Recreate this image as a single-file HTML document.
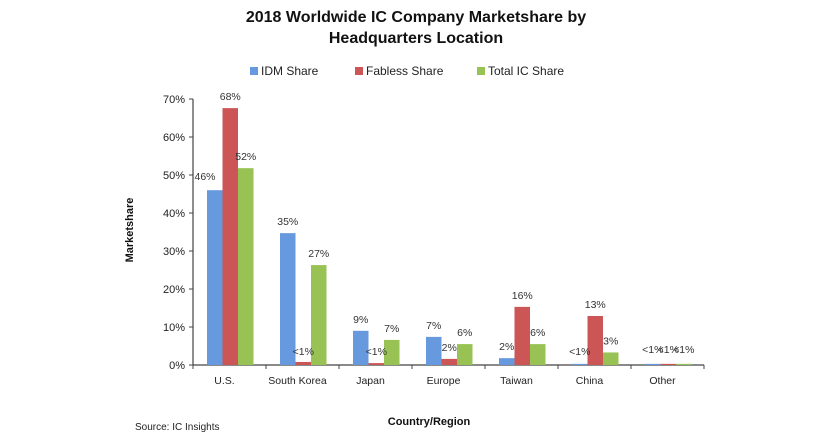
<!DOCTYPE html>
<html><head><meta charset="utf-8"><style>
body{margin:0;background:#fff;}
svg{font-family:"Liberation Sans",Arial,sans-serif;}
</style></head><body>
<svg width="830" height="433">
<text x="416" y="22" text-anchor="middle" font-size="16" font-weight="bold" fill="#111">2018 Worldwide IC Company Marketshare by</text>
<text x="416" y="43" text-anchor="middle" font-size="16" font-weight="bold" fill="#111">Headquarters Location</text>
<g id="legend"></g>
<g id="axes"></g>
<g id="bars"></g>
<g id="labels"></g>
<text transform="translate(133,230) rotate(-90)" text-anchor="middle" font-size="11" font-weight="bold" fill="#111">Marketshare</text>
<text x="429" y="425" text-anchor="middle" font-size="11" font-weight="bold" fill="#111">Country/Region</text>
<text x="135" y="430" font-size="10" fill="#222">Source: IC Insights</text>
</svg>
<script>
const categories=["U.S.","South Korea","Japan","Europe","Taiwan","China","Other"];
const idm=[46,34.7,9,7.4,1.8,0.3,0.3];
const fabless=[67.6,0.8,0.5,1.6,15.3,12.9,0.3];
const total=[51.8,26.3,6.6,5.5,5.5,3.3,0.3];
const idmLabels=["46%","35%","9%","7%","2%","<1%","<1%"];
const fablessLabels=["68%","<1%","<1%","2%","16%","13%","<1%"];
const totalLabels=["52%","27%","7%","6%","6%","3%","<1%"];
const yTicks=[0,10,20,30,40,50,60,70];
const seriesNames=["IDM Share","Fabless Share","Total IC Share"];

const NS="http://www.w3.org/2000/svg";
const x0=193,catW=73,y0=365,pxPer=38/10,barW=15.5,off=14;
const colors=["#6699dd","#cc5555","#99c255"];
const yS=v=>y0-v*pxPer;
function mk(tag,attrs,parent,txt){const e=document.createElementNS(NS,tag);for(const k in attrs)e.setAttribute(k,attrs[k]);if(txt!==undefined)e.textContent=txt;parent.appendChild(e);return e;}
const axes=document.getElementById('axes'),bars=document.getElementById('bars'),labels=document.getElementById('labels'),legend=document.getElementById('legend');
const xEnd=x0+catW*categories.length;
let l=mk('line',{x1:x0,y1:y0,x2:x0,y2:yS(70),stroke:'#444','stroke-width':1.2},axes);


l=mk('line',{x1:x0,y1:y0,x2:xEnd,y2:y0,stroke:'#444','stroke-width':1.2},axes);


yTicks.forEach(t=>{
  const tk=mk('line',{x1:x0-4,y1:yS(t),x2:x0,y2:yS(t),stroke:'#444'},axes);
  
  
  const tl=mk('text',{x:x0-8,y:yS(t)+4,'text-anchor':'end','font-size':11,fill:'#222'},axes,t+'%');
  
  
});
for(let i=0;i<=categories.length;i++){
  const tk=mk('line',{x1:x0+i*catW,y1:y0,x2:x0+i*catW,y2:y0+4,stroke:'#444'},axes);
  
  
}
categories.forEach((c,i)=>{
  const tl=mk('text',{x:x0+i*catW+catW/2-5,y:y0+19,'text-anchor':'middle','font-size':10.5,fill:'#222'},axes,c);
  
  
});
const series=[idm,fabless,total],labs=[idmLabels,fablessLabels,totalLabels];
series.forEach((s,si)=>{
  s.forEach((v,i)=>{
    const bx=x0+i*catW+off+si*barW;
    const r=mk('rect',{x:bx,y:yS(v),width:barW,height:v*pxPer,fill:colors[si]},bars);
    
    
    let lx=bx+barW/2,ly=yS(v)-8;
    if(i===0&&si===0){lx=bx-2;ly=yS(v)-10;}
    if(labs[si][i]==='<1%'){ly=y0-10;}
    if(i===6){ly=y0-12;}
    const t=mk('text',{x:lx,y:ly,'text-anchor':'middle','font-size':10.5,fill:'#333'},labels,labs[si][i]);
    
    
  });
});
const lx=[250,355,477];
seriesNames.forEach((n,i)=>{
  const r=mk('rect',{x:lx[i],y:67,width:8,height:8,fill:colors[i]},legend);
  
  
  const t=mk('text',{x:lx[i]+11,y:75,'font-size':12,fill:'#222'},legend,n);
  
  
});
</script>
</body></html>
